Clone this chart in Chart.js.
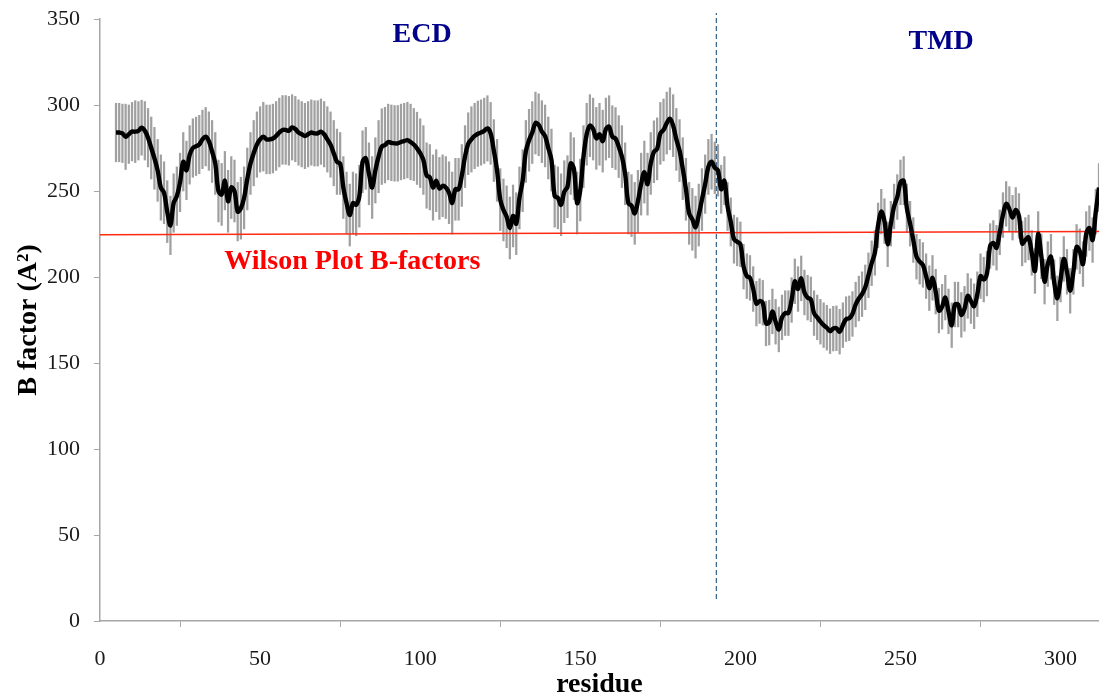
<!DOCTYPE html>
<html lang="en">
  <head>
    <meta charset="UTF-8" />
    <title>B factor per residue</title>
    <style>
      body {
        margin: 0;
        background-color: white;
      }

      .chart-box {
        width: 1099px;
        height: 696px;
        position: relative;
      }
    </style>
  </head>
  <body>
    <div class="chart-box">
      <canvas id="bChart"></canvas>
    </div>

    <script src="https://cdn.jsdelivr.net/npm/chart.js"></script>
    <script>
      // first residue of the series, one value per residue after that
      const residueStart = 5;

      // mean B factor per residue (5 .. 312)
      const bFactor = [
        284, 284, 283.5, 281.5, 283, 284.5, 284.5, 285, 286.8, 285,
        281, 275, 269, 262, 252, 249, 238, 230, 243, 247,
        255, 267, 262, 271, 275, 276, 277, 280, 281.6, 279,
        273, 266, 250, 248, 256, 244, 252, 250, 238, 240,
        246, 257, 266, 272, 277, 280, 281.6, 280, 280, 280.5,
        282, 284, 285.5, 285.5, 285, 287, 286, 284, 283, 282,
        283, 284, 283.5, 283.5, 284.5, 283, 280, 277, 272, 267,
        266, 252, 243, 236, 243, 242, 247, 267, 269, 260,
        252, 262, 270, 275.8, 276.7, 278.5, 278, 277.7, 277.7, 278.5,
        279, 279.6, 278.5, 277, 274.8, 272, 268, 259, 258, 252,
        256, 251.5, 253, 252, 249, 243, 251, 251, 259, 270,
        277.5, 280, 282, 283.3, 284, 285, 286.4, 283.5, 273.5, 262,
        245, 239, 235, 228.5, 235.5, 231, 246, 256, 273, 279.5,
        284, 289.5, 288.5, 284.5, 282, 275, 268, 247, 246, 242,
        249.6, 252.5, 266, 263, 243, 250.6, 270, 283, 288, 286,
        280.6, 283, 279, 286, 287.4, 281.6, 280.5, 275.8, 270, 260,
        243, 241.5, 237, 244, 254, 261, 254, 266, 272.8, 274.5,
        283.5, 285.5, 289.5, 292, 288, 280, 273.5, 263, 251, 237,
        233.5, 229, 236, 245, 254, 264, 267, 263.5, 262, 251,
        256, 241, 232, 222, 220.5, 219, 206, 200.5, 199.5, 193,
        184.5, 186, 185, 173, 173.5, 180, 174, 169.5, 176.5, 179,
        179, 186.6, 197.5, 193, 199.2, 191, 188, 187, 179, 176.5,
        174, 172, 170.5, 168.5, 170, 170.2, 168.2, 172, 175.5, 176,
        178.5, 184, 187.5, 190, 194, 201, 208, 214, 230, 238,
        232.5, 219, 231, 241, 246.5, 255, 256, 240, 231, 221.5,
        211.8, 208.9, 207, 200.5, 193.5, 199.5, 191.5, 180.5, 182.7, 188,
        180, 172, 184, 184, 178, 181.5, 189, 186, 183, 190,
        200.5, 198.5, 202, 218, 219.8, 217, 226, 236, 242.5, 239.5,
        234.5, 239, 235.5, 219.5, 221.5, 223, 214, 203.5, 225, 212,
        197.3, 207.5, 211.8, 197, 187.6, 198.5, 210.5, 203, 192, 203,
        217.5, 215, 207.5, 225, 228.4, 221.5, 238, 252,
      ];

      // half length of the grey error bar for each residue
      const bError = [
        17, 17, 17, 19, 17, 17, 18, 17, 16, 17,
        17, 18, 18, 18, 19, 18, 18, 17, 17, 17,
        17, 17, 17, 17, 17, 17, 17, 17, 17, 17,
        18, 18, 18, 18, 17, 18, 18, 18, 17, 18,
        18, 18, 18, 19, 19, 19, 20, 20, 20, 20,
        20, 20, 20, 20, 20, 19, 19, 19, 19, 19,
        19, 19, 19, 19, 19, 19, 19, 19, 19, 19,
        18, 18, 18, 18, 18, 18, 18, 18, 18, 18,
        18, 19, 21, 22, 22, 22, 22, 22, 22, 22,
        22, 22, 22, 21, 21, 20, 20, 19, 19, 19,
        18, 18, 18, 18, 18, 18, 18, 18, 18, 18,
        18, 19, 19, 19, 19, 19, 19, 18, 18, 18,
        18, 18, 18, 18, 18, 18, 18, 18, 18, 18,
        18, 18, 18, 18, 18, 18, 18, 18, 18, 18,
        18, 18, 18, 18, 18, 18, 18, 18, 18, 18,
        18, 18, 18, 18, 18, 18, 18, 18, 18, 18,
        18, 18, 18, 18, 18, 18, 18, 18, 18, 18,
        18, 18, 18, 18, 18, 18, 18, 18, 18, 18,
        18, 18, 18, 18, 17, 16, 16, 15, 15, 14,
        14, 14, 14, 14, 14, 13, 13, 13, 13, 13,
        13, 13, 13, 13, 13, 13, 13, 13, 13, 13,
        13, 13, 13, 13, 13, 13, 13, 13, 13, 13,
        13, 13, 13, 13, 13, 13, 13, 13, 13, 13,
        13, 13, 13, 13, 13, 13, 13, 13, 13, 13,
        13, 13, 13, 13, 13, 13, 14, 14, 13, 13,
        13, 13, 13, 13, 13, 13, 13, 13, 13, 13,
        13, 13, 13, 13, 13, 13, 13, 13, 13, 13,
        13, 13, 13, 13, 13, 13, 13, 13, 13, 13,
        13, 13, 13, 13, 13, 13, 13, 13, 13, 13,
        13, 13, 13, 13, 13, 13, 13, 13, 13, 13,
        13, 13, 13, 13, 13, 13, 13, 14,
      ];

      // Wilson plot reference line (residue, B factor)
      const wilsonX = [0, 312];
      const wilsonY = [224.5, 226.5];

      // ECD / TMD boundary
      const boundaryResidue = 192.5;
      const boundaryRange = [12.8, 353.5];

      const xTicks = [0, 50, 100, 150, 200, 250, 300];
      const yTicks = [0, 50, 100, 150, 200, 250, 300, 350];

      const residues = bFactor.map((_, i) => residueStart + i);

      const serif = '"Liberation Serif", "Times New Roman", serif';
      const axisGrey = "#a6a6a6";

      // labels on the plot: ECD, TMD, Wilson Plot B-factors
      const notesPlugin = {
        id: "notes",
        afterDatasetsDraw(chart) {
          const { ctx } = chart;
          const x = chart.scales.x;
          const y = chart.scales.y;
          ctx.save();
          ctx.font = "bold 28px " + serif;
          ctx.textAlign = "center";
          ctx.textBaseline = "middle";
          ctx.fillStyle = "#00008b";
          ctx.fillText("ECD", x.getPixelForValue(100.6), y.getPixelForValue(341));
          ctx.fillText("TMD", x.getPixelForValue(262.7), y.getPixelForValue(337));
          ctx.fillStyle = "#ff0000";
          ctx.fillText(
            "Wilson Plot B-factors",
            x.getPixelForValue(78.8),
            y.getPixelForValue(209)
          );
          ctx.restore();
        },
      };

      const ctx = document.getElementById("bChart").getContext("2d");
      new Chart(ctx, {
        type: "line",
        data: {
          datasets: [
            {
              label: "B factor",
              data: residues.map((r, i) => ({ x: r, y: bFactor[i] })),
              borderColor: "#000000",
              borderWidth: 4.4,
              pointRadius: 0,
              tension: 0.35,
              order: 0,
            },
            {
              label: "Wilson",
              data: wilsonX.map((r, i) => ({ x: r, y: wilsonY[i] })),
              borderColor: "#ff2a12",
              borderWidth: 1.5,
              pointRadius: 0,
              order: 1,
            },
            {
              label: "boundary",
              data: boundaryRange.map((v) => ({ x: boundaryResidue, y: v })),
              borderColor: "#3d6694",
              borderWidth: 1.3,
              borderDash: [5, 3],
              pointRadius: 0,
              clip: false,
              order: 2,
            },
            {
              type: "bar",
              label: "error",
              data: residues.map((r, i) => ({
                x: r,
                y: [bFactor[i] - bError[i], bFactor[i] + bError[i]],
              })),
              backgroundColor: "#a0a0a0",
              barThickness: 1.6,
              order: 3,
            },
          ],
        },
        options: {
          responsive: true,
          maintainAspectRatio: false,
          animation: false,
          layout: { padding: { top: 0, left: 6, right: 0, bottom: 0 } },
          plugins: {
            legend: { display: false },
            tooltip: { enabled: false },
          },
          scales: {
            x: {
              type: "linear",
              min: 0,
              max: 312,
              offset: false,
              border: { color: axisGrey, width: 1.5 },
              grid: {
                drawOnChartArea: false,
                drawTicks: true,
                tickLength: 6,
                color: axisGrey,
              },
              afterBuildTicks: (axis) => {
                axis.ticks = xTicks.map((v) => ({ value: v }));
              },
              afterFit: (axis) => {
                axis.height = 75;
              },
              ticks: {
                color: "#1a1a1a",
                font: { family: serif, size: 22, lineHeight: 1 },
                padding: 21,
                maxRotation: 0,
              },
              title: {
                display: true,
                text: "residue",
                color: "#000000",
                font: { family: serif, size: 28, weight: "bold", lineHeight: 0.8 },
                padding: 0,
              },
            },
            y: {
              type: "linear",
              min: 0,
              max: 350,
              border: { color: axisGrey, width: 1.5 },
              grid: {
                drawOnChartArea: false,
                drawTicks: true,
                tickLength: 6,
                color: axisGrey,
              },
              afterBuildTicks: (axis) => {
                axis.ticks = yTicks.map((v) => ({ value: v }));
              },
              afterFit: (axis) => {
                axis.width = 94;
                axis.paddingTop = 19;
              },
              ticks: {
                color: "#1a1a1a",
                font: { family: serif, size: 22 },
                padding: 14,
              },
              title: {
                display: true,
                text: "B factor (A²)",
                color: "#000000",
                font: { family: serif, size: 28, weight: "bold" },
                padding: 6,
              },
            },
          },
        },
        plugins: [notesPlugin],
      });
    </script>
  </body>
</html>
